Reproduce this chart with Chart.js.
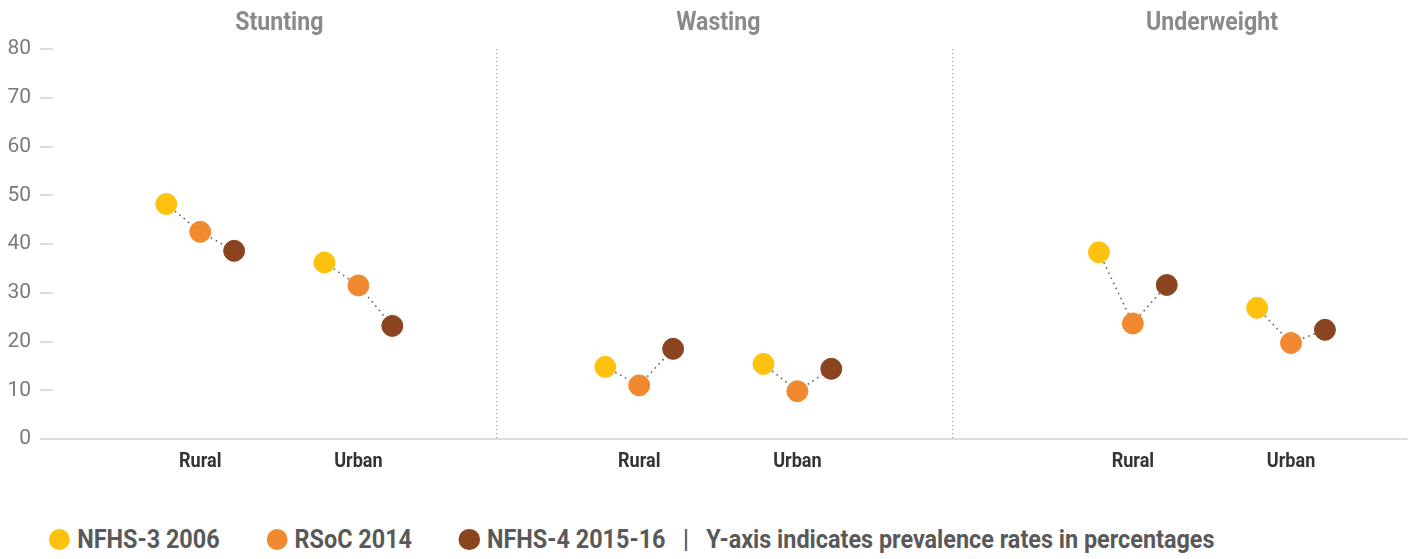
<!DOCTYPE html>
<html>
<head>
<meta charset="utf-8">
<script src="https://cdn.jsdelivr.net/npm/chart.js@4.4.1/dist/chart.umd.min.js"></script>
<style>
  body { margin: 0; background: #fff; font-family: Roboto, sans-serif; }
  #wrap { position: relative; width: 1419px; height: 559px; }
  #legend {
    position: absolute; left: 49px; top: 524px;
    display: flex; align-items: center; white-space: nowrap;
    font-weight: 700; font-size: 26px; color: #595959;
    transform: scaleX(0.9); transform-origin: left center;
  }
  #legend .dot { width: 23.3px; height: 21px; border-radius: 50%; margin-right: 8px; }
  #legend .item { display: flex; align-items: center; margin-right: 52px; }
</style>
</head>
<body>
<div id="wrap">
  <canvas id="chart" width="1419" height="500"></canvas>
  <div id="legend"></div>
</div>
<script>
// Panels and categories
const panels = ['Stunting', 'Wasting', 'Underweight'];
const areas = ['Rural', 'Urban'];
const seriesNames = ['NFHS-3 2006', 'RSoC 2014', 'NFHS-4 2015-16'];
const note = 'Y-axis indicates prevalence rates in percentages';

// Values, ordered: Stunting Rural, Stunting Urban, Wasting Rural, Wasting Urban, Underweight Rural, Underweight Urban
const nfhs3 = [48.2, 36.2, 14.8, 15.4, 38.3, 26.9];
const rsoc = [42.5, 31.5, 11.0, 9.8, 23.7, 19.7];
const nfhs4 = [38.6, 23.2, 18.5, 14.4, 31.6, 22.4];

const yTicks = [0, 10, 20, 30, 40, 50, 60, 70, 80];

// Styling / layout
const seriesColors = ['#FDC10E', '#F0892F', '#8A4420'];
const panelCentres = [0.525, 0.488, 0.571]; // where the Rural/Urban pair sits inside each panel
const areaGap = 0.347;
const seriesGap = 0.0744;

const allSeries = [nfhs3, rsoc, nfhs4];

const xFor = (panelIdx, areaIdx, seriesIdx) =>
  panelIdx + panelCentres[panelIdx] + (areaIdx - 0.5) * areaGap + (seriesIdx - 1) * seriesGap;

// Build point datasets
const pointSets = allSeries.map((values, s) => ({
  label: seriesNames[s],
  data: values.map((v, i) => ({ x: xFor(Math.floor(i / 2), i % 2, s), y: v })),
  backgroundColor: seriesColors[s],
  borderColor: seriesColors[s],
  pointRadius: 10.5,
  pointHoverRadius: 10.5,
  showLine: false,
  order: 1
}));

// Dotted connectors inside each Rural / Urban group
const connector = [];
nfhs3.forEach((v, i) => {
  allSeries.forEach((values, s) => {
    connector.push({ x: xFor(Math.floor(i / 2), i % 2, s), y: values[i] });
  });
  connector.push({ x: xFor(Math.floor(i / 2), i % 2, 1) + 0.01, y: null });
});

// draw condensed-looking text (no condensed face installed)
const drawText = (ctx, text, x, y, font, color, squeeze) => {
  ctx.save();
  ctx.translate(x, y);
  ctx.scale(squeeze, 1);
  ctx.font = font;
  ctx.fillStyle = color;
  ctx.fillText(text, 0, 0);
  ctx.restore();
};

const decorations = {
  id: 'decorations',
  beforeDatasetsDraw(chart) {
    const { ctx, chartArea, scales: { x, y } } = chart;
    ctx.save();
    // small tick marks
    ctx.strokeStyle = '#dddddd';
    ctx.lineWidth = 2;
    yTicks.forEach(t => {
      if (t === 0) return;
      const py = Math.round(y.getPixelForValue(t));
      ctx.beginPath();
      ctx.moveTo(chartArea.left, py);
      ctx.lineTo(chartArea.left + 13, py);
      ctx.stroke();
    });
    // baseline
    const py0 = y.getPixelForValue(0);
    ctx.beginPath();
    ctx.moveTo(chartArea.left, py0);
    ctx.lineTo(chartArea.right, py0);
    ctx.stroke();
    // panel dividers
    ctx.strokeStyle = '#9a9a9a';
    ctx.lineWidth = 1;
    ctx.setLineDash([1, 3]);
    for (let p = 1; p < panels.length; p++) {
      const px = Math.round(x.getPixelForValue(p)) + 0.5;
      ctx.beginPath();
      ctx.moveTo(px, chartArea.top);
      ctx.lineTo(px, py0);
      ctx.stroke();
    }
    ctx.setLineDash([]);
    // panel titles and area labels
    ctx.textAlign = 'center';
    ctx.textBaseline = 'alphabetic';
    panels.forEach((name, p) => {
      drawText(ctx, name, x.getPixelForValue(p + panelCentres[p]), 29.5,
        'bold 26px Roboto', '#8a8a8a', 0.89);
      areas.forEach((a, ai) => {
        drawText(ctx, a, x.getPixelForValue(xFor(p, ai, 1)), 467,
          'bold 21px Roboto', '#333333', 0.86);
      });
    });
    ctx.restore();
  }
};

new Chart(document.getElementById('chart'), {
  type: 'scatter',
  data: {
    datasets: [
      ...pointSets,
      {
        label: 'connector',
        data: connector,
        showLine: true,
        spanGaps: false,
        borderColor: '#666666',
        borderWidth: 1.6,
        borderDash: [1.6, 4],
        pointRadius: 0,
        order: 5
      }
    ]
  },
  options: {
    responsive: false,
    animation: false,
    layout: { padding: { top: 49, right: 8, bottom: 61, left: 0 } },
    scales: {
      x: { type: 'linear', min: 0, max: panels.length, display: false },
      y: {
        min: 0,
        max: 80,
        afterFit(scale) { scale.width = 40; },
        ticks: {
          stepSize: 10,
          padding: 9,
          color: '#7a7a7a',
          font: { family: 'Roboto', size: 21 }
        },
        grid: { display: false, drawTicks: false },
        border: { display: false }
      }
    },
    plugins: {
      legend: { display: false },
      tooltip: { enabled: false }
    }
  },
  plugins: [decorations]
});

// HTML legend below the chart
const legend = document.getElementById('legend');
seriesNames.forEach((name, s) => {
  const item = document.createElement('div');
  item.className = 'item';
  const dot = document.createElement('span');
  dot.className = 'dot';
  dot.style.background = seriesColors[s];
  const txt = document.createElement('span');
  txt.textContent = name;
  item.appendChild(dot);
  item.appendChild(txt);
  if (s === seriesNames.length - 1) {
    item.style.marginRight = '0';
    const sep = document.createElement('span');
    sep.textContent = '\u00a0\u00a0\u00a0|\u00a0\u00a0\u00a0' + note;
    item.appendChild(sep);
  }
  legend.appendChild(item);
});
</script>
</body>
</html>
